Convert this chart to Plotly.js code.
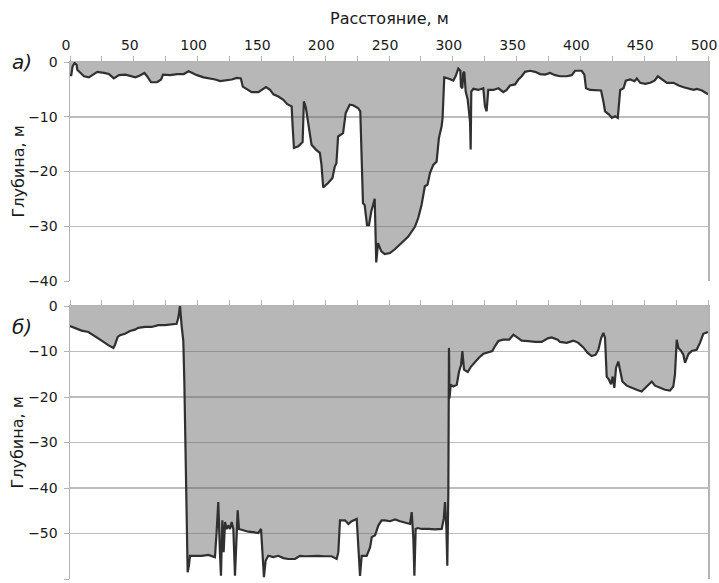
<!DOCTYPE html>
<html>
<head>
<meta charset="utf-8">
<script src="https://cdn.plot.ly/plotly-3.0.1.min.js"></script>
<style>
html,body{margin:0;padding:0;background:#fff;}
#chart{width:719px;height:583px;}
</style>
</head>
<body>
<div id="chart"></div>
<script>
// Panel a) — distance (m) and depth (m)
const distA = [0,1,2,3.6,5.2,5.7,8.3,11,14.8,18.7,21.4,26.6,30.5,34.4,38.3,43.5,47.4,51.3,55.2,58.3,60.4,63.5,68.2,71.4,72.9,78.6,83.9,89.1,93,95.6,99.5,104.7,109.9,113.8,117.7,122.9,126.8,130.7,133.9,135.4,139,142.4,147.6,150.2,153.6,156.8,159.4,163.3,167.2,170.3,173.7,174.5,175.5,178.9,182.3,183.3,184.9,187.5,189.3,192.7,195.8,197.1,198.4,202.3,205.7,207.5,208.8,210.1,214,216.1,219.2,221.8,225.7,227.5,228.3,229.6,230.9,232.8,234.3,236.1,238.8,239.3,240,241.4,244,246.7,250.7,254.6,259.8,265.1,270.3,272.9,275.5,278.1,280.2,282.1,284.7,287.3,289.1,291.2,292,293.3,296.5,300.4,302.2,304.3,305.9,306.4,307.5,308.2,309,310.1,311.7,313.5,314,314.5,316.1,320,323.9,325.2,326.5,327.8,331.8,335.7,339.6,342.2,344.8,348.8,351.4,354,356.6,360.5,364.5,368.4,372.3,376.2,380.2,384.1,389.3,393.2,395.8,401,403.1,404.4,407.5,411.5,416.2,418,419.3,422.5,424.6,427.2,429.3,431.2,433.8,435.6,439,442.4,444.2,446.9,450.8,454.7,458.1,460.7,463.9,467.8,473,477,480.9,484.8,488.7,491.3,495.3,500];
const depthA = [-2.4,-2.4,-0.8,-0.2,-0.5,-1.4,-2.0,-2.6,-2.8,-2.3,-1.8,-2.0,-2.2,-3.0,-2.4,-2.3,-2.6,-2.8,-2.4,-2.0,-2.6,-3.7,-3.7,-3.2,-2.3,-2.4,-2.2,-2.2,-1.7,-2.0,-2.4,-2.8,-3.0,-3.2,-3.5,-3.4,-3.2,-2.9,-3.0,-4.5,-5.1,-5.5,-5.5,-5.1,-4.6,-5.1,-5.9,-6.3,-6.9,-7.7,-8.1,-11.8,-15.7,-15.4,-14.6,-7.2,-8.4,-12.4,-15.1,-16.0,-16.6,-18.8,-22.9,-22.1,-21.2,-19.1,-18.5,-13.6,-13.0,-9.3,-7.8,-7.9,-8.4,-9.0,-15.1,-25.8,-26.1,-29.8,-29.8,-27.3,-25.0,-31.0,-36.6,-33.1,-34.6,-35.1,-34.9,-34.2,-33.1,-31.9,-30.1,-28.5,-26.1,-22.7,-22.4,-20.3,-18.8,-18.2,-13.9,-11.8,-10.2,-2.8,-3.0,-3.4,-2.6,-1.2,-1.6,-4.5,-4.8,-2.0,-1.8,-5.4,-6.9,-10.9,-16.0,-5.4,-4.9,-5.1,-4.8,-8.1,-9.0,-5.1,-5.1,-4.8,-5.5,-5.1,-4.3,-4.1,-3.2,-2.6,-1.8,-1.6,-1.8,-2.2,-2.3,-2.0,-2.4,-2.6,-2.6,-2.4,-1.6,-1.6,-2.3,-4.8,-5.1,-5.2,-5.2,-7.2,-9.0,-9.6,-10.2,-9.9,-10.2,-5.1,-4.8,-3.4,-3.2,-3.5,-3.0,-3.8,-4.0,-3.8,-3.4,-2.6,-3.2,-3.8,-3.8,-4.3,-4.6,-4.9,-5.1,-4.9,-5.2,-5.9];

// Panel б) — distance (m) and depth (m)
const distB = [0,3.9,9.1,14.4,19.6,24.8,30,34,35.3,37.4,39.2,43.1,47,50.9,53.5,58.8,64,69.2,74.4,79.7,83.6,84.9,86.2,87.5,88.8,89.6,90.6,91.7,92.2,93.2,94,97.9,103.2,108.4,113.6,114.9,116.2,117.5,118.3,119.4,120.4,121.5,122.8,124,125.4,126.7,128,129.3,130.6,131.4,132.4,135.8,139.7,143.7,147.6,149.7,151,152,153.3,155.4,159.3,163.3,167.2,171.1,176.3,180.2,184.1,189.4,194.6,199.8,205,209,210.3,211.6,215.5,218.2,220.8,224.7,226,227.3,228.6,232.5,235.2,236.5,239.1,241.7,244.2,246.8,250.8,254.7,258.7,262.6,266.5,267.8,269.1,269.9,270.9,272.5,275.6,280.9,286.1,291.3,292.9,293.9,295,295.7,296.5,297,297.4,298.4,300.4,303.1,304.9,306.5,307.5,308.8,311.7,314.3,317.4,320.6,324,327.9,331,333.1,335.7,339.6,344.1,347.5,350.1,354,359.2,364.4,369.7,374.4,377.5,382.2,384,389.3,394.5,398.4,402.3,405.7,408.8,412,414.1,416.2,418,419.3,420.6,422.4,424,425.3,426.6,427.9,429.7,431,432.9,436.3,440.2,444.1,448,451.9,455.9,458.5,462.4,466.3,470.2,472.8,474.1,475.5,476.8,478.8,480.7,482,484.7,487.2,491.1,493.7,496.3,498.9,500];
const depthB = [-4.4,-4.9,-5.4,-5.7,-6.6,-7.6,-8.6,-9.2,-8.5,-6.8,-6.4,-6.1,-5.5,-5.2,-4.8,-4.6,-4.6,-4.2,-4.2,-4.1,-3.9,-2.6,0,-4.4,-7.7,-16.6,-31.3,-46.0,-58.5,-57.1,-54.9,-54.9,-54.9,-54.7,-55.2,-49.7,-43.1,-54.1,-59.3,-47.1,-54.1,-47.5,-49.0,-48.2,-49.0,-47.5,-49.0,-59.3,-49.7,-44.9,-49.0,-49.3,-49.6,-49.7,-49.9,-49.0,-54.1,-59.6,-56.0,-54.9,-55.2,-54.9,-55.4,-55.6,-55.6,-54.9,-55.0,-54.9,-54.9,-55.0,-55.0,-55.6,-54.1,-47.1,-47.1,-47.9,-47.3,-46.8,-54.1,-59.3,-54.9,-54.9,-53.0,-50.8,-50.4,-48.2,-47.1,-47.1,-47.3,-46.9,-47.3,-47.6,-47.9,-45.3,-51.2,-59.3,-49.0,-48.8,-49.0,-49.0,-49.1,-49.0,-46.8,-43.1,-49.0,-57.1,-40.9,-9.2,-20.3,-17.3,-17.7,-17.3,-14.4,-12.9,-9.9,-14.0,-14.5,-13.3,-12.2,-11.3,-10.5,-10.1,-9.9,-8.8,-7.7,-7.4,-7.4,-6.3,-6.9,-7.6,-7.7,-7.9,-7.9,-7.1,-6.9,-7.4,-7.9,-8.1,-7.6,-8.1,-9.1,-10.3,-11.0,-10.7,-9.6,-7.1,-5.9,-7.0,-15.5,-16.2,-17.2,-15.5,-18.0,-13.6,-12.2,-14.0,-16.6,-17.5,-18.0,-18.4,-18.8,-17.7,-16.6,-17.5,-18.0,-18.4,-18.6,-17.7,-15.1,-7.4,-9.2,-9.8,-10.7,-12.5,-10.5,-9.9,-9.6,-8.1,-6.1,-5.7,-5.7];

// Distance tick labels
const xTickVals = [0, 50, 100, 150, 200, 250, 300, 350, 400, 450, 500];
const xTickText = ["0", "50", "100", "150", "200", "250", "300", "350", "400", "450", "500"];

const xTitle = "Расстояние, м";
const yTitle = "Глубина, м";
const panelLabels = ["а)", "б)"];

const FONT = "DejaVu Sans, Liberation Sans, Arial, sans-serif";
const lineStyle = {color: "#303030", width: 2.2};
const fillCol = "rgba(95,95,95,0.45)";

const traces = [
  {x: distA, y: depthA, xaxis: "x", yaxis: "y", type: "scatter", mode: "lines",
   fill: "tozeroy", fillcolor: fillCol, line: lineStyle, hoverinfo: "skip"},
  {x: distB, y: depthB, xaxis: "x2", yaxis: "y2", type: "scatter", mode: "lines",
   fill: "tozeroy", fillcolor: fillCol, line: lineStyle, hoverinfo: "skip"}
];

const axisCol = "#b4b4b4";
const gridCol = "#bdbdbd";
const tickFont = {family: FONT, size: 14, color: "#1a1a1a"};

function xAx(anchor, labels) {
  return {
    anchor: anchor, side: "top", range: [0, 500],
    tickmode: "array", tickvals: xTickVals, ticktext: xTickText,
    ticks: "outside", ticklen: 5, tickcolor: axisCol, tickwidth: 1,
    minor: {tick0: 0, dtick: 25, ticks: "outside", ticklen: 5, tickcolor: axisCol, showgrid: false},
    showline: true, linecolor: axisCol, linewidth: 1.5,
    showgrid: false, zeroline: false, showticklabels: labels, tickfont: tickFont,
    ticklabelshift: -4, ticklabeloverflow: "allow", fixedrange: true
  };
}
function yAx(anchor, domain, range) {
  return {
    anchor: anchor, domain: domain, range: range, dtick: 10, tick0: 0,
    ticks: "outside", ticklen: 5, tickcolor: axisCol, ticklabelstandoff: 3,
    showline: true, linecolor: axisCol, linewidth: 1.5, mirror: true,
    showgrid: true, gridcolor: gridCol, gridwidth: 1.5, zeroline: false,
    tickfont: tickFont, fixedrange: true
  };
}

const layout = {
  width: 719, height: 583,
  margin: {l: 70, r: 11, t: 62, b: 4},
  paper_bgcolor: "#fff", plot_bgcolor: "#fff",
  showlegend: false,
  font: {family: FONT, color: "#1a1a1a"},
  xaxis: xAx("y", true),
  xaxis2: Object.assign(xAx("y2", false), {matches: "x"}),
  yaxis: yAx("x", [0.5764, 1], [-40, 0]),
  yaxis2: yAx("x2", [0, 0.528], [-60, 0]),
  annotations: [
    {text: xTitle, xref: "paper", yref: "paper", x: 0.5, y: 1.085, xanchor: "center", yanchor: "middle",
     showarrow: false, font: {family: FONT, size: 16, color: "#1a1a1a"}},
    {text: yTitle, xref: "paper", yref: "paper", x: -0.0815, y: 0.7882, xanchor: "center", yanchor: "middle",
     textangle: -90, showarrow: false, font: {family: FONT, size: 16, color: "#1a1a1a"}},
    {text: yTitle, xref: "paper", yref: "paper", x: -0.0815, y: 0.264, xanchor: "center", yanchor: "middle",
     textangle: -90, showarrow: false, font: {family: FONT, size: 16, color: "#1a1a1a"}},
    {text: panelLabels[0], xref: "paper", yref: "paper", x: -0.0752, y: 1.0, xanchor: "center", yanchor: "middle",
     showarrow: false, font: {family: FONT, size: 20, color: "#1a1a1a", style: "italic"}},
    {text: panelLabels[1], xref: "paper", yref: "paper", x: -0.0752, y: 0.4874, xanchor: "center", yanchor: "middle",
     showarrow: false, font: {family: FONT, size: 20, color: "#1a1a1a", style: "italic"}}
  ]
};

Plotly.newPlot("chart", traces, layout, {displayModeBar: false, staticPlot: true});
</script>
</body>
</html>
